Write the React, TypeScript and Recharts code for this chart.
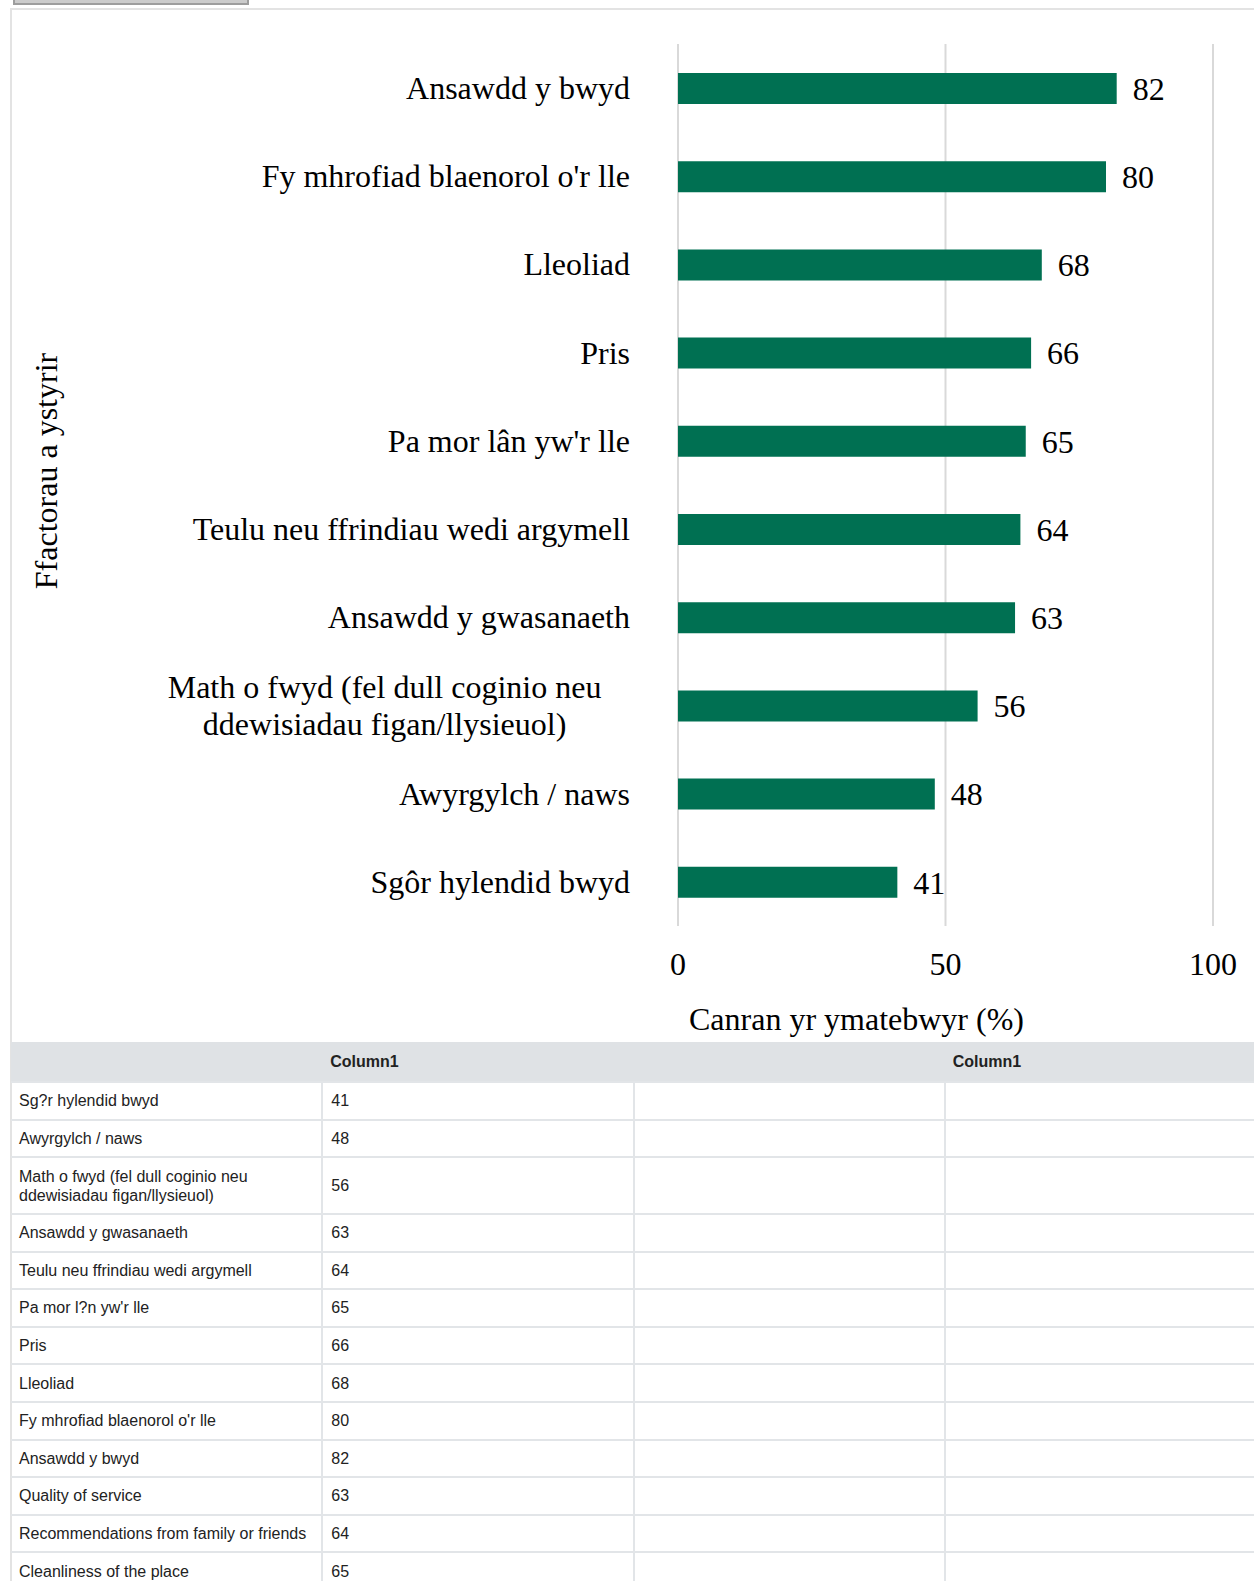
import React from "react";
import { Bar, BarChart, CartesianGrid, LabelList, XAxis, YAxis } from "recharts";

// chart values, top to bottom as drawn
const categories = [
  "Ansawdd y bwyd",
  "Fy mhrofiad blaenorol o'r lle",
  "Lleoliad",
  "Pris",
  "Pa mor lân yw'r lle",
  "Teulu neu ffrindiau wedi argymell",
  "Ansawdd y gwasanaeth",
  "Math o fwyd (fel dull coginio neu ddewisiadau figan/llysieuol)",
  "Awyrgylch / naws",
  "Sgôr hylendid bwyd",
];
const percentages = [82, 80, 68, 66, 65, 64, 63, 56, 48, 41];
const xTicks = [0, 50, 100];
const xTitle = "Canran yr ymatebwyr (%)";
const yTitle = "Ffactorau a ystyrir";

// data table under the chart
const tableHeaders = ["", "Column1", "", "Column1"];
const tableLabels = [
  "Sg?r hylendid bwyd",
  "Awyrgylch / naws",
  "Math o fwyd (fel dull coginio neu ddewisiadau figan/llysieuol)",
  "Ansawdd y gwasanaeth",
  "Teulu neu ffrindiau wedi argymell",
  "Pa mor l?n yw'r lle",
  "Pris",
  "Lleoliad",
  "Fy mhrofiad blaenorol o'r lle",
  "Ansawdd y bwyd",
  "Quality of service",
  "Recommendations from family or friends",
  "Cleanliness of the place",
];
const tableValues = [41, 48, 56, 63, 64, 65, 66, 68, 80, 82, 63, 64, 65];

const SERIF = "'Liberation Serif', 'Times New Roman', serif";
const SANS = "'Liberation Sans', Arial, sans-serif";
const GREEN = "#007052";

const chartData = categories.map((name, i) => ({ name, value: percentages[i] }));

function wrapLabel(text: string, max: number) {
  const words = text.split(" ");
  const lines: string[] = [];
  let cur = "";
  words.forEach((w) => {
    const next = cur ? cur + " " + w : w;
    if (next.length > max && cur) {
      lines.push(cur);
      cur = w;
    } else {
      cur = next;
    }
  });
  if (cur) lines.push(cur);
  return lines;
}

function CategoryTick({ x, y, payload }: any) {
  const lines = wrapLabel(String(payload.value), 33);
  if (lines.length === 1) {
    return (
      <text x={x} y={y} dy="0.34em" textAnchor="end" fontSize={32} fontFamily={SERIF} fill="#000">
        {lines[0]}
      </text>
    );
  }
  const lh = 36.5;
  const longest = Math.max(...lines.map((l) => l.length));
  const cx = x - (longest * 13.3) / 2 - 26;
  const y0 = y - ((lines.length - 1) * lh) / 2;
  return (
    <text textAnchor="middle" fontSize={32} fontFamily={SERIF} fill="#000">
      {lines.map((l, i) => (
        <tspan key={i} x={cx} y={y0 + i * lh} dy="0.34em">
          {l}
        </tspan>
      ))}
    </text>
  );
}

const renderXTitle = (props: any) => {
  const vb = props.viewBox;
  return (
    <text x={vb.x + vb.width / 2 - 89} y={vb.y + 104} textAnchor="middle" fontSize={32} fontFamily={SERIF} fill="#000">
      {xTitle}
    </text>
  );
};

const renderYTitle = (props: any) => {
  const vb = props.viewBox;
  const cx = vb.x + 57;
  const cy = vb.y + vb.height / 2 - 14;
  return (
    <text x={cx} y={cy} transform={`rotate(-90 ${cx} ${cy})`} textAnchor="middle" fontSize={32} fontFamily={SERIF} fill="#000">
      {yTitle}
    </text>
  );
};

export default function App() {
  const cellStyle: React.CSSProperties = {
    border: "2px solid #e2e5e8",
    padding: "8.2px 8px",
    lineHeight: "19.2px",
    verticalAlign: "middle",
    textAlign: "left",
  };
  return (
    <div style={{ position: "absolute", left: 0, top: 0, width: 1254, height: 1581, overflow: "hidden", background: "#fff" }}>
      {/* toolbar button cut at the top */}
      <div
        style={{
          position: "absolute",
          left: 13,
          top: -20,
          width: 232,
          height: 21,
          background: "#cbcbcb",
          border: "2px solid #9d9d9d",
        }}
      />
      {/* frame */}
      <div
        style={{
          position: "absolute",
          left: 10,
          top: 8,
          width: 1300,
          height: 1700,
          borderLeft: "2px solid #e3e3e3",
          borderTop: "2px solid #e3e3e3",
        }}
      />
      <div style={{ position: "absolute", left: 0, top: 0 }}>
        <BarChart
          width={1254}
          height={1041}
          data={chartData}
          layout="vertical"
          margin={{ top: 44, right: 41, bottom: 0, left: 0 }}
        >
          <CartesianGrid horizontal={false} stroke="#d9d9d9" strokeWidth={2} />
          <XAxis
            type="number"
            domain={[0, 100]}
            ticks={xTicks}
            height={115}
            axisLine={false}
            tickLine={false}
            tickSize={0}
            tickMargin={26}
            tick={{ fontSize: 32, fill: "#000", fontFamily: SERIF }}
            label={{ content: renderXTitle }}
          />
          <YAxis
            type="category"
            dataKey="name"
            width={678}
            axisLine={false}
            tickLine={false}
            tickSize={0}
            tickMargin={48}
            interval={0}
            tick={<CategoryTick />}
            label={{ content: renderYTitle }}
          />
          <Bar dataKey="value" fill={GREEN} barSize={31} isAnimationActive={false}>
            <LabelList dataKey="value" position="right" offset={16} fontSize={32} fill="#000" fontFamily={SERIF} />
          </Bar>
        </BarChart>
      </div>
      <table
        style={{
          position: "absolute",
          left: 11,
          top: 1042,
          width: 1246,
          borderCollapse: "collapse",
          tableLayout: "fixed",
          fontFamily: SANS,
          fontSize: 16,
          color: "#222",
        }}
      >
        <thead>
          <tr style={{ background: "#dfe2e5" }}>
            {tableHeaders.map((h, i) => (
              <th
                key={i}
                style={{
                  padding: "10px 8px",
                  lineHeight: "19.2px",
                  textAlign: "left",
                  fontWeight: "bold",
                  borderBottom: "2px solid #e2e5e8",
                  width: "25%",
                }}
              >
                {h}
              </th>
            ))}
          </tr>
        </thead>
        <tbody>
          {tableLabels.map((label, i) => (
            <tr key={i}>
              <td style={{ ...cellStyle, borderLeft: "none" }}>{label}</td>
              <td style={cellStyle}>{tableValues[i]}</td>
              <td style={cellStyle}></td>
              <td style={cellStyle}></td>
            </tr>
          ))}
        </tbody>
      </table>
    </div>
  );
}
